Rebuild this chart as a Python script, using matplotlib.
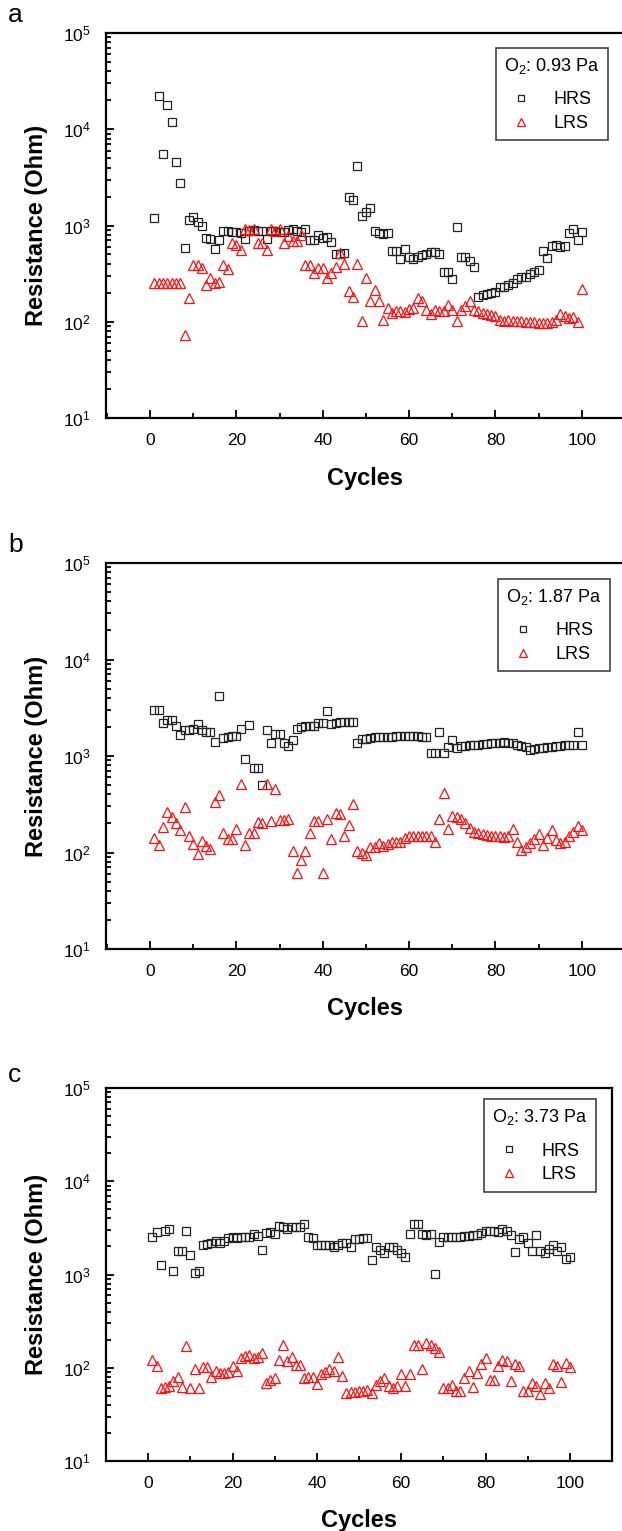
import numpy as np
import matplotlib
matplotlib.use("Agg")
import matplotlib.pyplot as plt
from matplotlib.ticker import LogLocator, MultipleLocator, NullFormatter

plt.rcParams['font.family'] = ['Liberation Sans', 'DejaVu Sans']
plt.rcParams['mathtext.fontset'] = 'custom'
plt.rcParams['mathtext.rm'] = 'Liberation Sans'
plt.rcParams['mathtext.it'] = 'Liberation Sans:italic'
plt.rcParams['mathtext.bf'] = 'Liberation Sans:bold'

cycles = list(range(1, 101))

# ---- panel a: O2 0.93 Pa ----
hrs_a = [1200, 22000, 5500, 18000, 12000, 4600, 2750, 580, 1130, 1220,
         1100, 1000, 750, 720, 570, 710, 870, 870, 860, 850,
         830, 720, 870, 900, 870, 870, 720, 880, 870, 860,
         850, 900, 930, 880, 860, 920, 700, 700, 790, 740,
         760, 680, 500, 510, 520, 1970, 1820, 4200, 1260, 1380,
         1520, 870, 830, 810, 830, 540, 545, 450, 570, 470,
         450, 470, 490, 510, 525, 530, 500, 325, 325, 275,
         960, 470, 470, 430, 370, 180, 190, 195, 200, 205,
         230, 230, 240, 250, 280, 290, 295, 310, 330, 345,
         540, 460, 610, 630, 600, 610, 830, 910, 710, 850]
lrs_a = [250, 250, 250, 250, 250, 250, 250, 73, 175, 390,
         390, 360, 240, 285, 250, 260, 390, 350, 660, 630,
         550, 930, 900, 920, 660, 660, 550, 930, 880, 930,
         660, 780, 690, 690, 790, 390, 390, 320, 365, 365,
         285, 320, 370, 515, 400, 210, 180, 400, 103, 285,
         163, 215, 163, 105, 138, 124, 128, 130, 125, 135,
         140, 178, 163, 133, 121, 133, 128, 130, 150, 133,
         103, 133, 145, 163, 133, 128, 124, 120, 118, 115,
         105, 103, 104, 102, 103, 101, 100, 100, 99, 98,
         97, 98, 100, 105, 120, 115, 110, 112, 100, 220]

# ---- panel b: O2 1.87 Pa ----
hrs_b = [3000, 3000, 2200, 2350, 2350, 2050, 1660, 1870, 1870, 1900,
         2150, 1870, 1780, 1760, 1400, 4150, 1520, 1580, 1600, 1610,
         1900, 920, 2100, 760, 760, 500, 1870, 1380, 1700, 1700,
         1350, 1260, 1480, 1900, 2000, 2050, 2050, 2050, 2200, 2200,
         2900, 2150, 2200, 2250, 2250, 2250, 2250, 1380, 1510, 1510,
         1550, 1560, 1580, 1570, 1590, 1580, 1600, 1620, 1610, 1630,
         1620, 1600, 1580, 1570, 1080, 1080, 1780, 1080, 1240, 1460,
         1200, 1260, 1270, 1290, 1300, 1310, 1320, 1330, 1350, 1370,
         1380, 1400, 1380, 1360, 1300, 1280, 1250, 1150, 1180, 1200,
         1220, 1240, 1250, 1260, 1280, 1300, 1310, 1300, 1770, 1300]
lrs_b = [140, 120, 185, 260, 235, 200, 170, 295, 148, 123,
         96, 132, 117, 108, 330, 390, 158, 139, 137, 176,
         515, 120, 160, 158, 205, 200, 515, 210, 450, 215,
         215, 225, 104, 62, 83, 104, 158, 210, 210, 62,
         220, 139, 255, 250, 148, 195, 315, 103, 98, 95,
         115, 115, 125, 118, 122, 127, 127, 130, 141, 148,
         150, 150, 150, 150, 150, 127, 225, 410, 177, 240,
         235, 225, 200, 178, 165, 160, 155, 152, 150, 148,
         150, 145, 148, 177, 127, 105, 115, 125, 139, 155,
         120, 141, 173, 135, 125, 128, 150, 165, 190, 170]

# ---- panel c: O2 3.73 Pa ----
hrs_c = [2520, 2870, 1250, 2900, 3080, 1100, 1800, 1800, 2900, 1620,
         1050, 1100, 2080, 2150, 2200, 2300, 2200, 2300, 2440, 2500,
         2450, 2500, 2520, 2520, 2700, 2600, 1820, 2800, 2880, 2750,
         3300, 3200, 3080, 3200, 3200, 3220, 3450, 2500, 2450, 2050,
         2050, 2080, 2070, 1990, 2050, 2200, 2200, 1950, 2400, 2400,
         2450, 2450, 1430, 1990, 1820, 1700, 1950, 1950, 1820, 1720,
         1550, 2700, 3500, 3500, 2700, 2650, 2750, 1020, 2250, 2500,
         2520, 2520, 2500, 2520, 2600, 2600, 2650, 2650, 2800, 2900,
         2900, 2950, 2880, 3080, 2950, 2650, 1750, 2400, 2500, 2200,
         1800, 2650, 1800, 1720, 1880, 2080, 1800, 1950, 1450, 1550]
lrs_c = [122, 105, 60, 62, 64, 72, 79, 62, 170, 60,
         96, 60, 101, 102, 79, 92, 87, 88, 90, 105,
         92, 126, 134, 137, 126, 132, 145, 69, 74, 77,
         120, 175, 117, 132, 107, 107, 77, 79, 79, 67,
         85, 90, 96, 92, 132, 82, 54, 55, 55, 56,
         57, 58, 53, 65, 72, 77, 64, 60, 64, 85,
         64, 85, 176, 176, 96, 183, 176, 163, 148, 60,
         60, 65, 57, 57, 77, 92, 62, 88, 110, 126,
         74, 74, 105, 120, 117, 72, 110, 105, 57, 57,
         69, 64, 52, 69, 60, 110, 105, 70, 112, 102]

legend_titles = ["O$_2$: 0.93 Pa", "O$_2$: 1.87 Pa", "O$_2$: 3.73 Pa"]
panel_letters = ["a", "b", "c"]
series = [(hrs_a, lrs_a), (hrs_b, lrs_b), (hrs_c, lrs_c)]

W, H = 622, 1531
fig = plt.figure(figsize=(W / 100, H / 100), dpi=100)

# pixel boxes: left, top, right, bottom
boxes = [(106, 33, 625, 418), (106, 563, 625, 949), (106, 1088, 612, 1461)]
xlims = [(-10.2, 110), (-10.2, 110), (-10.0, 110)]
legend_anchor = [(0.967, 0.961), (0.971, 0.959), (0.968, 0.970)]
letter_y = [15, 545, 1075]

for i in range(3):
    l, t, r, b = boxes[i]
    ax = fig.add_axes([l / W, 1 - b / H, (r - l) / W, (b - t) / H])
    hrs, lrs = series[i]
    ax.plot(cycles, hrs, linestyle='none', marker='s', markersize=5.2,
            markerfacecolor='none', markeredgecolor='#222222', markeredgewidth=0.9,
            label='HRS')
    ax.plot(cycles, lrs, linestyle='none', marker='^', markersize=7,
            markerfacecolor='none', markeredgecolor='#ff1010', markeredgewidth=0.9,
            label='LRS')
    ax.set_yscale('log')
    ax.set_ylim(10, 1e5)
    ax.set_xlim(*xlims[i])
    ax.xaxis.set_major_locator(MultipleLocator(20))
    ax.xaxis.set_minor_locator(MultipleLocator(10))
    ax.yaxis.set_major_locator(LogLocator(base=10, numticks=10))
    ax.yaxis.set_minor_locator(LogLocator(base=10, subs=np.arange(2, 10), numticks=20))
    ax.yaxis.set_minor_formatter(NullFormatter())
    ax.tick_params(axis='both', which='both', direction='in', top=False, right=False,
                   labelsize=12.5, width=1.3)
    ax.tick_params(axis='both', which='major', length=6)
    ax.tick_params(axis='both', which='minor', length=3.5)
    ax.tick_params(axis='y', which='major', pad=11)
    ax.tick_params(axis='x', which='major', pad=11)
    for s in ax.spines.values():
        s.set_linewidth(1.6)
    ax.set_xlabel('Cycles', fontsize=17, fontweight='bold')
    ax.set_ylabel('Resistance (Ohm)', fontsize=17, fontweight='bold')
    ax.xaxis.set_label_coords(0.5, -(60) / (b - t))
    ax.xaxis.label.set_va('center')
    ax.yaxis.set_label_coords(-(106 - 37) / (r - l), 0.5)
    ax.yaxis.label.set_va('center')
    leg = ax.legend(loc='upper right', bbox_to_anchor=legend_anchor[i],
                    title=legend_titles[i], fontsize=13, title_fontsize=13,
                    frameon=True, fancybox=False, edgecolor='black',
                    handlelength=1.0, handletextpad=1.3, borderpad=0.45,
                    labelspacing=0.38, markerscale=0.8, borderaxespad=0)
    leg._legend_box.sep = 11
    leg.get_frame().set_linewidth(1.1)
    fig.text(8 / W, 1 - letter_y[i] / H, panel_letters[i], fontsize=19,
             ha='left', va='center')

fig.savefig('out.png', dpi=100)
